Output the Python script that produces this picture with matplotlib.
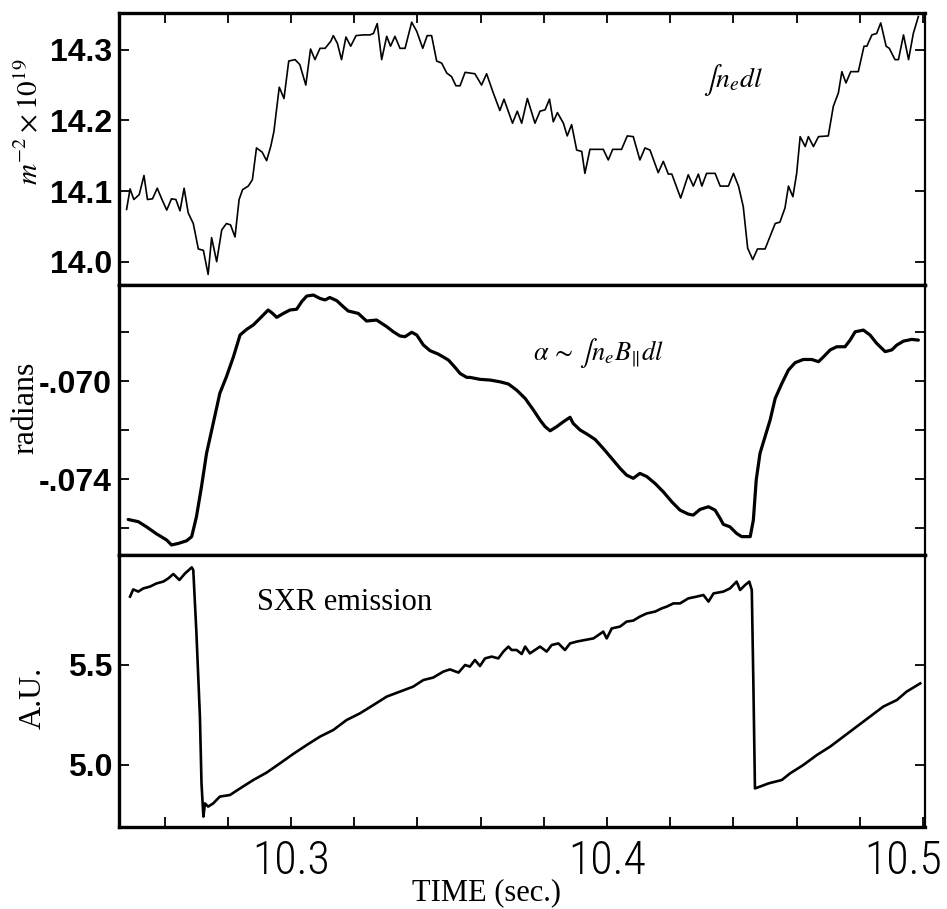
import matplotlib
matplotlib.use("Agg")
import matplotlib.pyplot as plt
from matplotlib.transforms import ScaledTranslation
from matplotlib import font_manager

plt.rcParams['mathtext.fontset'] = 'stix'

# ---------------- data ----------------
# line-integrated density (top panel), 1e19 m^-2
t_ne = [10.2480, 10.2491, 10.2503, 10.2520, 10.2535, 10.2546, 10.2562, 10.2577, 10.2591, 10.2607,
        10.2622, 10.2636, 10.2649, 10.2662, 10.2675, 10.2691, 10.2707, 10.2723, 10.2738, 10.2749,
        10.2765, 10.2781, 10.2796, 10.2809, 10.2823, 10.2836, 10.2847, 10.2865, 10.2878, 10.2891,
        10.2909, 10.2923, 10.2936, 10.2946, 10.2963, 10.2978, 10.2993, 10.3013, 10.3028, 10.3047,
        10.3062, 10.3076, 10.3092, 10.3108, 10.3126, 10.3134, 10.3147, 10.3160, 10.3174, 10.3189,
        10.3206, 10.3229, 10.3250, 10.3261, 10.3273, 10.3287, 10.3303, 10.3315, 10.3329, 10.3345,
        10.3361, 10.3382, 10.3398, 10.3417, 10.3431, 10.3445, 10.3461, 10.3477, 10.3493, 10.3508,
        10.3522, 10.3535, 10.3551,
        10.3566, 10.3582, 10.3603, 10.3619, 10.3640, 10.3661, 10.3674, 10.3701, 10.3716, 10.3730,
        10.3748, 10.3772, 10.3788, 10.3804, 10.3818, 10.3830, 10.3843, 10.3862, 10.3874, 10.3888,
        10.3904, 10.3920, 10.3930, 10.3946, 10.3988, 10.4004, 10.4018, 10.4046, 10.4064, 10.4083,
        10.4104, 10.4120, 10.4136, 10.4162, 10.4178, 10.4194, 10.4205, 10.4233, 10.4257, 10.4273,
        10.4289, 10.4300, 10.4315, 10.4342, 10.4358, 10.4384, 10.4400, 10.4416, 10.4431, 10.4445,
        10.4461, 10.4476, 10.4500, 10.4532, 10.4547, 10.4563, 10.4574, 10.4588, 10.4600, 10.4611,
        10.4627, 10.4637, 10.4653, 10.4669, 10.4700, 10.4716, 10.4732, 10.4743, 10.4756, 10.4771,
        10.4795, 10.4813, 10.4822, 10.4838, 10.4853, 10.4866, 10.4883, 10.4893, 10.4911, 10.4922,
        10.4938, 10.4954, 10.4969, 10.4985]
ne_dl = [14.074, 14.103, 14.088, 14.095, 14.122, 14.088, 14.089, 14.104, 14.089, 14.073,
         14.089, 14.088, 14.072, 14.104, 14.069, 14.054, 14.018, 14.016, 13.982, 14.034,
         14.000, 14.045, 14.054, 14.052, 14.035, 14.088, 14.102, 14.107, 14.116, 14.161,
         14.155, 14.143, 14.163, 14.184, 14.247, 14.231, 14.284, 14.286, 14.279, 14.250,
         14.301, 14.286, 14.302, 14.302, 14.312, 14.320, 14.309, 14.286, 14.318, 14.305,
         14.320, 14.321, 14.321, 14.323, 14.337, 14.286, 14.319, 14.305, 14.319, 14.302,
         14.302, 14.339, 14.326, 14.302, 14.320, 14.320, 14.284, 14.281, 14.267, 14.262,
         14.249, 14.249, 14.268,
         14.267, 14.266, 14.250, 14.266, 14.239, 14.214, 14.230, 14.196, 14.213, 14.196,
         14.231, 14.196, 14.213, 14.215, 14.230, 14.198, 14.211, 14.196, 14.178, 14.194,
         14.158, 14.156, 14.125, 14.159, 14.159, 14.144, 14.159, 14.159, 14.178, 14.177,
         14.144, 14.161, 14.158, 14.126, 14.142, 14.124, 14.124, 14.090, 14.123, 14.107,
         14.124, 14.107, 14.125, 14.125, 14.107, 14.107, 14.125, 14.107, 14.078, 14.019,
         14.003, 14.018, 14.018, 14.054, 14.056, 14.076, 14.107, 14.092, 14.125, 14.177,
         14.163, 14.177, 14.163, 14.177, 14.178, 14.220, 14.239, 14.269, 14.253, 14.269,
         14.269, 14.305, 14.305, 14.321, 14.323, 14.338, 14.305, 14.302, 14.286, 14.286,
         14.321, 14.286, 14.323, 14.347]

# Faraday rotation angle (middle panel), radians
t_alpha = [10.2485, 10.2517, 10.2543, 10.2575, 10.2607, 10.2622, 10.2643, 10.2670, 10.2686, 10.2701,
           10.2717, 10.2733, 10.2754, 10.2775, 10.2796, 10.2818, 10.2839, 10.2860, 10.2881, 10.2902,
           10.2928, 10.2942, 10.2955, 10.2976, 10.2997, 10.3018, 10.3034, 10.3050, 10.3071, 10.3092,
           10.3108, 10.3123, 10.3145, 10.3166, 10.3181, 10.3213, 10.3239, 10.3271, 10.3303, 10.3324,
           10.3345, 10.3361, 10.3382, 10.3398, 10.3419, 10.3440, 10.3466, 10.3498, 10.3519, 10.3535,
           10.3556,
           10.3566, 10.3598, 10.3630, 10.3661, 10.3688, 10.3714, 10.3741, 10.3767, 10.3788, 10.3804,
           10.3820, 10.3841, 10.3862, 10.3883, 10.3893, 10.3915, 10.3936, 10.3962, 10.3988, 10.4015,
           10.4041, 10.4062, 10.4083, 10.4104, 10.4126, 10.4152, 10.4178, 10.4205, 10.4231, 10.4257,
           10.4273, 10.4294, 10.4321, 10.4342, 10.4358, 10.4368, 10.4389, 10.4410, 10.4426, 10.4453,
           10.4463, 10.4472, 10.4484, 10.4500, 10.4516, 10.4532, 10.4553, 10.4574, 10.4595, 10.4621,
           10.4648, 10.4669, 10.4685, 10.4706, 10.4727, 10.4753, 10.4769, 10.4785, 10.4811, 10.4832,
           10.4853, 10.4880, 10.4901, 10.4917, 10.4938, 10.4964, 10.4985]
alpha = [-0.07565, -0.07574, -0.07595, -0.07624, -0.07649, -0.07669, -0.07663, -0.07652, -0.07635, -0.07554,
         -0.07431, -0.07295, -0.07173, -0.07050, -0.06982, -0.06901, -0.06812, -0.06789, -0.06771, -0.06744,
         -0.06710, -0.06724, -0.06740, -0.06724, -0.06710, -0.06707, -0.06676, -0.06653, -0.06649, -0.06663,
         -0.06669, -0.06659, -0.06672, -0.06697, -0.06714, -0.06724, -0.06755, -0.06751, -0.06778, -0.06799,
         -0.06816, -0.06819, -0.06801, -0.06812, -0.06853, -0.06876, -0.06890, -0.06914, -0.06944, -0.06969,
         -0.06985,
         -0.06985, -0.06993, -0.06996, -0.07003, -0.07012, -0.07037, -0.07071, -0.07118, -0.07159, -0.07186,
         -0.07203, -0.07186, -0.07166, -0.07148, -0.07173, -0.07200, -0.07216, -0.07238, -0.07275, -0.07316,
         -0.07356, -0.07384, -0.07397, -0.07377, -0.07390, -0.07418, -0.07452, -0.07493, -0.07527, -0.07543,
         -0.07547, -0.07524, -0.07513, -0.07527, -0.07561, -0.07585, -0.07595, -0.07622, -0.07635, -0.07635,
         -0.07567, -0.07404, -0.07295, -0.07227, -0.07159, -0.07071, -0.07010, -0.06955, -0.06925, -0.06912,
         -0.06912, -0.06921, -0.06901, -0.06873, -0.06860, -0.06860, -0.06833, -0.06799, -0.06792, -0.06812,
         -0.06846, -0.06880, -0.06873, -0.06853, -0.06837, -0.06830, -0.06833]

# soft X-ray emission (bottom panel), A.U.
t_sxr = [10.2491, 10.2501, 10.2517, 10.2533, 10.2554, 10.2575, 10.2596, 10.2612, 10.2628, 10.2647,
         10.2665, 10.2686, 10.2691, 10.2701, 10.2712, 10.2717, 10.2723, 10.2728, 10.2738, 10.2754,
         10.2775, 10.2807, 10.2839, 10.2881, 10.2923, 10.2965, 10.3007, 10.3050, 10.3092, 10.3134,
         10.3176, 10.3218, 10.3261, 10.3303, 10.3345, 10.3387, 10.3419, 10.3450, 10.3482, 10.3503,
         10.3530, 10.3551,
         10.3566, 10.3582, 10.3598, 10.3614, 10.3635, 10.3656, 10.3672, 10.3688, 10.3698, 10.3714,
         10.3730, 10.3741, 10.3756, 10.3772, 10.3788, 10.3809, 10.3825, 10.3846, 10.3867, 10.3883,
         10.3904, 10.3930, 10.3957, 10.3973, 10.3988, 10.3999, 10.4015, 10.4041, 10.4062, 10.4083,
         10.4104, 10.4126, 10.4152, 10.4173, 10.4189, 10.4210, 10.4231, 10.4257, 10.4284, 10.4305,
         10.4321, 10.4337, 10.4368, 10.4389, 10.4410, 10.4421, 10.4437, 10.4450, 10.4458, 10.4463,
         10.4468, 10.4484, 10.4511, 10.4553, 10.4579, 10.4621, 10.4664, 10.4706, 10.4748, 10.4790,
         10.4832, 10.4874, 10.4917, 10.4948, 10.4991]
sxr = [5.842, 5.878, 5.867, 5.883, 5.892, 5.908, 5.917, 5.933, 5.955, 5.925,
       5.958, 5.988, 5.975, 5.658, 5.242, 4.908, 4.742, 4.808, 4.792, 4.808,
       4.842, 4.850, 4.883, 4.925, 4.962, 5.008, 5.055, 5.100, 5.142, 5.175,
       5.225, 5.258, 5.300, 5.342, 5.367, 5.392, 5.425, 5.437, 5.467, 5.478,
       5.462, 5.500,
       5.492, 5.525, 5.495, 5.533, 5.542, 5.533, 5.567, 5.592, 5.575, 5.575,
       5.555, 5.592, 5.558, 5.575, 5.592, 5.567, 5.600, 5.608, 5.575, 5.608,
       5.617, 5.625, 5.633, 5.650, 5.667, 5.633, 5.683, 5.692, 5.717, 5.722,
       5.742, 5.758, 5.767, 5.783, 5.792, 5.808, 5.808, 5.833, 5.842, 5.850,
       5.817, 5.858, 5.867, 5.883, 5.917, 5.875, 5.900, 5.917, 5.875, 5.408,
       4.883, 4.892, 4.908, 4.925, 4.958, 5.000, 5.050, 5.092, 5.142, 5.192,
       5.242, 5.292, 5.325, 5.367, 5.408]

x_ticks = [10.26, 10.28, 10.30, 10.32, 10.34, 10.36, 10.38, 10.40, 10.42, 10.44, 10.46, 10.48, 10.50]
x_tick_labels = ['', '', '10.3', '', '', '', '', '10.4', '', '', '', '', '10.5']
ne_ticks = [14.0, 14.1, 14.2, 14.3]
ne_tick_labels = ['14.0', '14.1', '14.2', '14.3']
alpha_ticks = [-0.076, -0.074, -0.072, -0.070, -0.068]
alpha_tick_labels = ['', '-.074', '', '-.070', '']
sxr_ticks = [5.0, 5.5]
sxr_tick_labels = ['5.0', '5.5']

# pick a condensed sans for the time tick labels if one is installed
installed = {f.name for f in font_manager.fontManager.ttflist}
narrow = None
for cand in ['Roboto Condensed', 'Liberation Sans Narrow', 'Open Sans Condensed', 'DejaVu Sans Condensed']:
    if cand in installed:
        narrow = cand
        break
if narrow is None:
    x_font = dict(family=['Liberation Sans', 'DejaVu Sans'], size=29)
else:
    x_font = dict(family=[narrow, 'DejaVu Sans'], size=33, weight='light')

# ---------------- figure ----------------
W, H = 947, 909
fig = plt.figure(figsize=(W / 100, H / 100), dpi=100)
left, right = 119 / W, 925 / W
ys = [1 - 13 / H, 1 - 285 / H, 1 - 555 / H, 1 - 827 / H]
axes = []
for i in range(3):
    ax = fig.add_axes([left, ys[i + 1], right - left, ys[i] - ys[i + 1]])
    axes.append(ax)
ax1, ax2, ax3 = axes

ax1.plot(t_ne, ne_dl, color='black', lw=1.2)
ax2.plot(t_alpha, alpha, color='black', lw=2.3, solid_capstyle='round')
ax3.plot(t_sxr, sxr, color='black', lw=1.9)

xlim = (10.2456, 10.5006)
for ax in axes:
    ax.set_xlim(*xlim)
    for s in ['top', 'bottom', 'left']:
        ax.spines[s].set_linewidth(2.4)
    ax.spines['right'].set_linewidth(1.6)
    ax.tick_params(axis='both', direction='in', length=7, width=1.3,
                   left=True, right=True, top=False, bottom=False)

ax1.set_ylim(13.967, 14.352)
ax2.set_ylim(-0.0771, -0.06608)
ax3.set_ylim(4.69, 6.05)

tick_font = dict(family=['Liberation Sans', 'DejaVu Sans'], weight='bold', size=23)
ax1.set_yticks(ne_ticks, ne_tick_labels, **tick_font)
ax2.set_yticks(alpha_ticks, alpha_tick_labels, **tick_font)
ax3.set_yticks(sxr_ticks, sxr_tick_labels, **tick_font)
for ax in axes:
    ax.tick_params(axis='y', pad=5)

ax1.set_xticks(x_ticks, [''] * len(x_ticks))
ax1.tick_params(axis='x', top=True, bottom=False)
ax2.set_xticks([])
ax3.set_xticks(x_ticks, x_tick_labels, **x_font)
ax3.tick_params(axis='x', bottom=True, top=False, pad=9)
lab = ax3.get_xticklabels()[-1]
lab.set_horizontalalignment('right')
lab.set_transform(lab.get_transform() + ScaledTranslation(0.19, 0, fig.dpi_scale_trans))

serif = ['Liberation Serif', 'DejaVu Serif']
fig.text(29 / W, 1 - 122 / H, r'$m^{-2}\times\mathrm{10}^{\mathrm{19}}$', rotation=90,
         ha='center', va='center', size=21)
fig.text(26 / W, 1 - 408 / H, 'radians', rotation=90, ha='center', va='center',
         family=serif, size=23)
fig.text(33 / W, 1 - 698 / H, 'A.U.', rotation=90, ha='center', va='center',
         family=serif, size=23)
fig.text(486 / W, 1 - 893 / H, 'TIME (sec.)', ha='center', va='center',
         family=serif, size=22)

ax1.text(10.4304, 14.257, r'$\int n_e dl$', ha='left', va='center', size=20)
ax2.text(10.3766, -0.06886, r'$\alpha\,\sim\,\int n_e B_{\|} dl$', ha='left', va='center', size=19)
ax3.text(10.2892, 5.81, 'SXR emission', ha='left', va='center', family=serif, size=22)

fig.savefig('out.png', dpi=100)
